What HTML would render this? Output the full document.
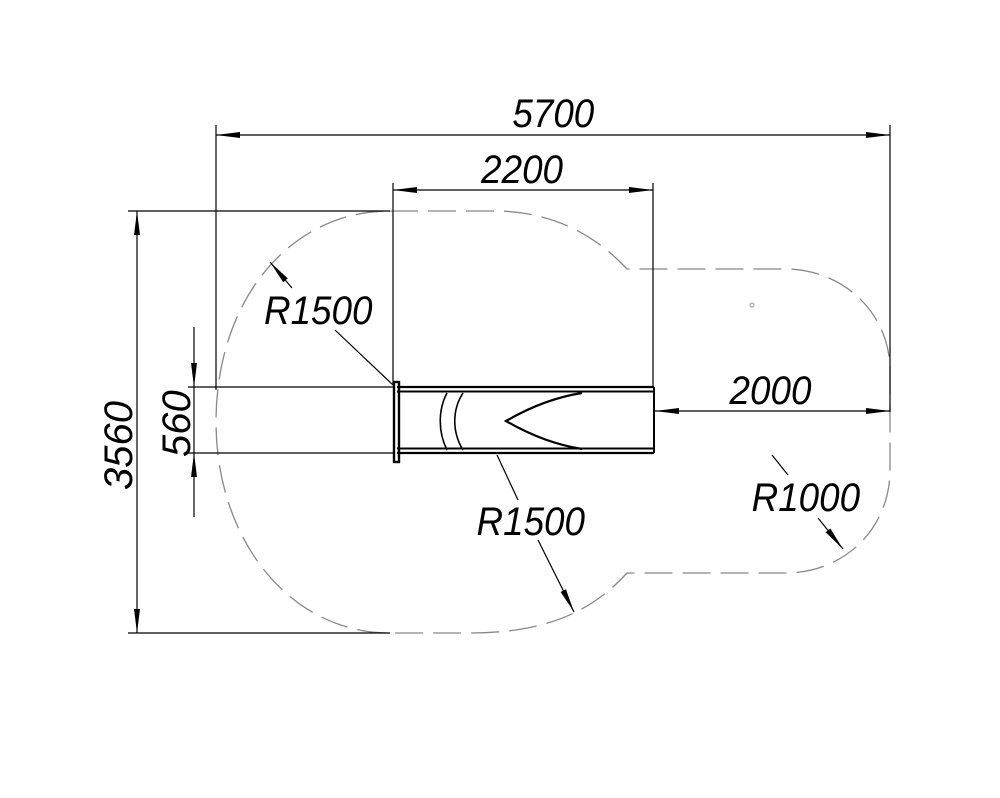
<!DOCTYPE html>
<html><head><meta charset="utf-8"><style>
html,body{margin:0;padding:0;background:#fff;}
svg{display:block;}
text{font-family:"Liberation Sans",sans-serif;font-style:italic;font-size:40px;fill:#000;}
</style></head><body>
<svg width="1000" height="798" viewBox="0 0 1000 798" xmlns="http://www.w3.org/2000/svg">
<defs>
<marker id="a" viewBox="0 0 24 8" refX="24" refY="4" markerWidth="24" markerHeight="8" markerUnits="userSpaceOnUse" orient="auto">
<path d="M0 1 L24 4 L0 7 Z" fill="#000"/></marker>
<marker id="b" viewBox="0 0 24 8" refX="0" refY="4" markerWidth="24" markerHeight="8" markerUnits="userSpaceOnUse" orient="auto">
<path d="M24 1 L0 4 L24 7 Z" fill="#000"/></marker>
</defs>
<path d="M390 211 L500 211 C560 213 600 240 627 269 L785 269 C845 269 890 315 890 370 L890 470 C890 528 845 573 785 573 L627 573 C600 602 560 633 470 633 L390 633 C290 633 216 540 216 422 C216 300 290 211 390 211 Z" fill="none" stroke="#888" stroke-width="1.3" stroke-dasharray="28 10"/>
<circle cx="752" cy="305" r="2" fill="none" stroke="#99a" stroke-width="1"/>
<g stroke="#000" stroke-width="1.2" fill="none">
<line x1="216" y1="125" x2="216" y2="390"/>
<line x1="890" y1="125" x2="890" y2="412"/>
<line x1="216" y1="135" x2="890" y2="135" marker-start="url(#b)" marker-end="url(#a)"/>
<line x1="393" y1="183" x2="393" y2="385"/>
<line x1="653" y1="183" x2="653" y2="387"/>
<line x1="393" y1="190" x2="653" y2="190" marker-start="url(#b)" marker-end="url(#a)"/>
<line x1="128" y1="211" x2="390" y2="211"/>
<line x1="128" y1="633" x2="390" y2="633"/>
<line x1="137" y1="211" x2="137" y2="633" marker-start="url(#b)" marker-end="url(#a)"/>
<line x1="188" y1="387" x2="395" y2="387"/>
<line x1="188" y1="453" x2="395" y2="453"/>
<line x1="194" y1="327" x2="194" y2="387" marker-end="url(#a)"/>
<line x1="194" y1="517" x2="194" y2="453" marker-end="url(#a)"/>
<line x1="194" y1="387" x2="194" y2="453"/>
<line x1="655" y1="411" x2="890" y2="411" marker-start="url(#b)" marker-end="url(#a)"/>
<line x1="292" y1="288" x2="270" y2="262" marker-end="url(#a)"/>
<line x1="335" y1="330" x2="393" y2="385"/>
<line x1="497" y1="455" x2="518" y2="500"/>
<line x1="538" y1="540" x2="574" y2="612" marker-end="url(#a)"/>
<line x1="772" y1="455" x2="788" y2="475"/>
<line x1="818" y1="518" x2="843" y2="549" marker-end="url(#a)"/>
</g>
<g stroke="#000" fill="none">
<line x1="397" y1="387" x2="654" y2="387" stroke-width="2.2"/>
<line x1="397" y1="391.5" x2="654" y2="391.5" stroke-width="2"/>
<line x1="397" y1="448.5" x2="654" y2="448.5" stroke-width="2"/>
<line x1="397" y1="453" x2="654" y2="453" stroke-width="2.2"/>
<line x1="654" y1="387" x2="654" y2="453" stroke-width="2"/>
<rect x="394" y="382" width="5" height="80" stroke-width="2.4"/>
<path d="M447 393 C438 410 438 432 447 450" stroke-width="1.6"/>
<path d="M463 393 C452 410 452 432 463 450" stroke-width="1.6"/>
<path d="M582 393 C550 398 525 410 506 421 C525 432 550 444 582 449" stroke-width="2.2"/>
</g>
<g transform="scale(0.92,1)">
<text x="557" y="127">5700</text>
<text x="523" y="183">2200</text>
<text x="287" y="324">R1500</text>
<text x="793" y="404">2000</text>
<text x="518" y="535">R1500</text>
<text x="817" y="511">R1000</text>
</g>
<text transform="translate(132,490) rotate(-90)">3560</text>
<text transform="translate(190,457) rotate(-90)">560</text>
</svg>
</body></html>
